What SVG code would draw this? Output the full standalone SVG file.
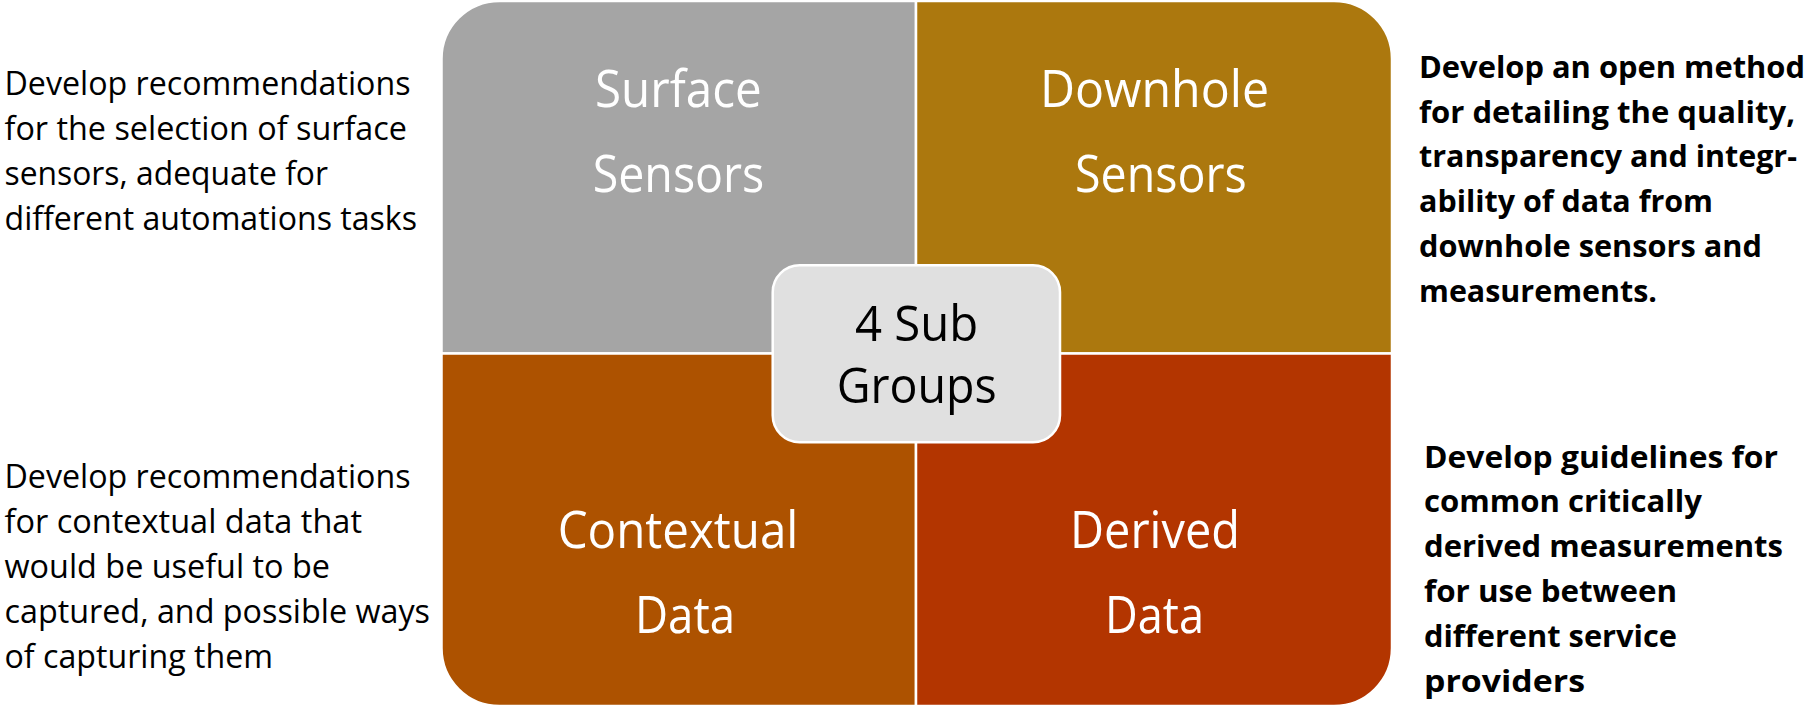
<svg xmlns="http://www.w3.org/2000/svg" width="1807" height="707" viewBox="0 0 1807 707">
  <style>
    .quad { stroke: #ffffff; stroke-width: 2.5; }
    .lbl { font-family: "Open Sans", "Noto Sans", "Liberation Sans", sans-serif; font-size: 52px; fill: #ffffff; }
    .ctr { font-family: "Open Sans", "Noto Sans", "Liberation Sans", sans-serif; font-size: 50px; fill: #000000; }
    .side { font-family: "Open Sans", "Noto Sans", "Liberation Sans", sans-serif; font-size: 32px; fill: #000000; }
    .bold { font-family: "Open Sans", "Noto Sans", "Liberation Sans", sans-serif; font-size: 31px; font-weight: bold; fill: #000000; }
  </style>
  <rect width="1807" height="707" fill="#ffffff"/>

  <g id="connectors"></g>

  <g id="surface-sensors">
    <path class="quad" fill="#A5A5A5" d="M441.5,59 A58,58 0 0 1 499.5,1 L916,1 L916,353.5 L441.5,353.5 Z"/>
    <text class="lbl" x="595" y="106.7" textLength="166.7" lengthAdjust="spacingAndGlyphs">Surface</text>
    <text class="lbl" x="592.7" y="191.7" textLength="171.6" lengthAdjust="spacingAndGlyphs">Sensors</text>
  </g>

  <g id="downhole-sensors">
    <path class="quad" fill="#AC780E" d="M916,1 L1334,1 A58,58 0 0 1 1392,59 L1392,353.5 L916,353.5 Z"/>
    <text class="lbl" x="1040" y="106.7" textLength="229" lengthAdjust="spacingAndGlyphs">Downhole</text>
    <text class="lbl" x="1075" y="191.7" textLength="171.7" lengthAdjust="spacingAndGlyphs">Sensors</text>
  </g>

  <g id="contextual-data">
    <path class="quad" fill="#AD5200" d="M441.5,353.5 L916,353.5 L916,706 L499.5,706 A58,58 0 0 1 441.5,648 Z"/>
    <text class="lbl" x="557.7" y="548.3" textLength="240.6" lengthAdjust="spacingAndGlyphs">Contextual</text>
    <text class="lbl" x="635" y="633.3" textLength="100" lengthAdjust="spacingAndGlyphs">Data</text>
  </g>

  <g id="derived-data">
    <path class="quad" fill="#B33500" d="M916,353.5 L1392,353.5 L1392,648 A58,58 0 0 1 1334,706 L916,706 Z"/>
    <text class="lbl" x="1070" y="548.3" textLength="170" lengthAdjust="spacingAndGlyphs">Derived</text>
    <text class="lbl" x="1105" y="633.3" textLength="99" lengthAdjust="spacingAndGlyphs">Data</text>
  </g>

  <g id="sub-groups">
    <rect x="772.7" y="265.3" width="287.3" height="177" rx="27" ry="27" fill="#E0E0E0" stroke="#ffffff" stroke-width="2.5"/>
    <text class="ctr" x="855" y="340.8" textLength="123.3" lengthAdjust="spacingAndGlyphs">4 Sub</text>
    <text class="ctr" x="836.7" y="403" textLength="160" lengthAdjust="spacingAndGlyphs">Groups</text>
  </g>

  <g id="note-surface">
    <text class="side" x="4.5" y="95" textLength="406" lengthAdjust="spacingAndGlyphs">Develop recommendations</text>
    <text class="side" x="4.5" y="140" textLength="402.5" lengthAdjust="spacingAndGlyphs">for the selection of surface</text>
    <text class="side" x="4.5" y="185" textLength="323.5" lengthAdjust="spacingAndGlyphs">sensors, adequate for</text>
    <text class="side" x="4.5" y="230" textLength="412.5" lengthAdjust="spacingAndGlyphs">different automations tasks</text>
  </g>

  <g id="note-contextual">
    <text class="side" x="4.5" y="488.3" textLength="406" lengthAdjust="spacingAndGlyphs">Develop recommendations</text>
    <text class="side" x="4.5" y="533.3" textLength="357.5" lengthAdjust="spacingAndGlyphs">for contextual data that</text>
    <text class="side" x="4.5" y="578.3" textLength="325.5" lengthAdjust="spacingAndGlyphs">would be useful to be</text>
    <text class="side" x="4.5" y="623.3" textLength="425.5" lengthAdjust="spacingAndGlyphs">captured, and possible ways</text>
    <text class="side" x="4.5" y="668.3" textLength="268.5" lengthAdjust="spacingAndGlyphs">of capturing them</text>
  </g>

  <g id="note-downhole">
    <text class="bold" x="1419" y="78" textLength="386" lengthAdjust="spacingAndGlyphs">Develop an open method</text>
    <text class="bold" x="1419" y="122.7" textLength="376" lengthAdjust="spacingAndGlyphs">for detailing the quality,</text>
    <text class="bold" x="1419" y="167.4" textLength="378" lengthAdjust="spacingAndGlyphs">transparency and integr-</text>
    <text class="bold" x="1419" y="212.1" textLength="294" lengthAdjust="spacingAndGlyphs">ability of data from</text>
    <text class="bold" x="1419" y="256.8" textLength="343" lengthAdjust="spacingAndGlyphs">downhole sensors and</text>
    <text class="bold" x="1419" y="301.5" textLength="238" lengthAdjust="spacingAndGlyphs">measurements.</text>
  </g>

  <g id="note-derived">
    <text class="bold" x="1424" y="467.5" textLength="354" lengthAdjust="spacingAndGlyphs">Develop guidelines for</text>
    <text class="bold" x="1424" y="512.3" textLength="278" lengthAdjust="spacingAndGlyphs">common critically</text>
    <text class="bold" x="1424" y="557.1" textLength="359" lengthAdjust="spacingAndGlyphs">derived measurements</text>
    <text class="bold" x="1424" y="601.9" textLength="253" lengthAdjust="spacingAndGlyphs">for use between</text>
    <text class="bold" x="1424" y="646.7" textLength="253" lengthAdjust="spacingAndGlyphs">different service</text>
    <text class="bold" x="1424" y="691.5" textLength="161" lengthAdjust="spacingAndGlyphs">providers</text>
  </g>
</svg>
